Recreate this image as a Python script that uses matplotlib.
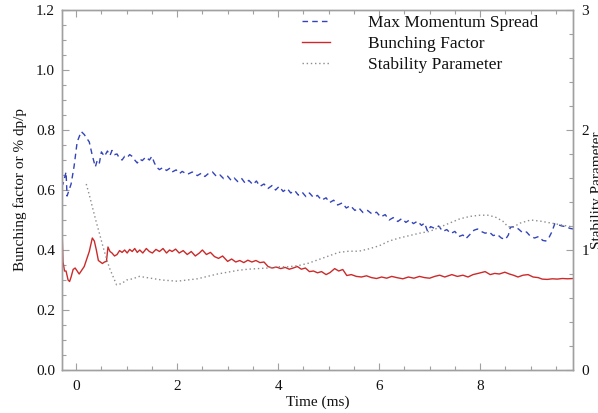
import numpy as np
import matplotlib.pyplot as plt
from matplotlib.ticker import MultipleLocator

plt.rcParams['font.family'] = ['Liberation Serif', 'DejaVu Serif']

# max momentum spread (% dp/p), left axis
spread_t = [-0.3, -0.26, -0.2, -0.18, -0.14, -0.1, -0.04, 0.02, 0.1, 0.16,
            0.2, 0.26, 0.32, 0.38, 0.42, 0.46, 0.5, 0.56, 0.62, 0.67,
            0.71, 0.76, 0.81, 0.86, 0.91, 0.96, 1.01, 1.06, 1.11, 1.16,
            1.21, 1.26, 1.31, 1.38, 1.45, 1.5, 1.55, 1.6, 1.65, 1.72,
            1.79, 1.85, 1.9, 1.98, 2.05, 2.1, 2.2, 2.3, 2.4, 2.48,
            2.55, 2.62, 2.7, 2.78, 2.85, 2.92, 3.0, 3.07, 3.13, 3.2,
            3.28, 3.35, 3.42, 3.5, 3.57, 3.64, 3.72, 3.8, 3.88, 3.95,
            4.02, 4.1, 4.18, 4.25, 4.33, 4.4, 4.48, 4.55, 4.62, 4.7,
            4.78, 4.86, 4.95, 5.02, 5.1, 5.18, 5.27, 5.35, 5.43, 5.52,
            5.6, 5.68, 5.77, 5.86, 5.95, 6.03, 6.12, 6.2, 6.28, 6.37,
            6.45, 6.53, 6.6, 6.68, 6.76, 6.84, 6.9, 6.96, 7.02, 7.1,
            7.18, 7.26, 7.34, 7.42, 7.5, 7.58, 7.66, 7.72, 7.8, 7.88,
            7.95, 8.02, 8.1, 8.18, 8.26, 8.34, 8.42, 8.5, 8.56, 8.6,
            8.68, 8.76, 8.84, 8.92, 9.0, 9.08, 9.16, 9.24, 9.3, 9.36,
            9.42, 9.48, 9.55, 9.62, 9.7, 9.78, 9.85]
spread_v = [0.61, 0.62, 0.66, 0.58, 0.60, 0.62, 0.68, 0.76, 0.795, 0.785,
            0.775, 0.76, 0.715, 0.677, 0.70, 0.69, 0.727, 0.712, 0.73, 0.715,
            0.732, 0.718, 0.72, 0.705, 0.70, 0.712, 0.708, 0.718, 0.712, 0.70,
            0.69, 0.703, 0.698, 0.71, 0.70, 0.712, 0.69, 0.675, 0.668, 0.675,
            0.665, 0.672, 0.66, 0.667, 0.655, 0.662, 0.652, 0.66, 0.648, 0.656,
            0.645, 0.655, 0.66, 0.645, 0.65, 0.638, 0.646, 0.632, 0.64, 0.628,
            0.638, 0.622, 0.632, 0.618, 0.63, 0.612, 0.62, 0.605, 0.615, 0.60,
            0.612, 0.595, 0.605, 0.59, 0.598, 0.583, 0.592, 0.578, 0.59, 0.575,
            0.582, 0.566, 0.574, 0.558, 0.566, 0.55, 0.557, 0.54, 0.548, 0.532,
            0.54, 0.525, 0.532, 0.52, 0.526, 0.51, 0.518, 0.50, 0.508, 0.495,
            0.505, 0.492, 0.50, 0.488, 0.496, 0.482, 0.49, 0.462, 0.478, 0.472,
            0.48, 0.462, 0.468, 0.455, 0.462, 0.445, 0.45, 0.438, 0.452, 0.466,
            0.47, 0.462, 0.456, 0.46, 0.448, 0.452, 0.44, 0.435, 0.45, 0.476,
            0.478, 0.47, 0.458, 0.46, 0.445, 0.44, 0.445, 0.432, 0.43, 0.44,
            0.46, 0.488, 0.484, 0.48, 0.478, 0.472, 0.47]

# bunching factor, left axis
bunch_t = [-0.3, -0.28, -0.26, -0.23, -0.2, -0.16, -0.13, -0.1, -0.06, -0.02,
           0.02, 0.06, 0.1, 0.16, 0.21, 0.26, 0.32, 0.36, 0.4, 0.44,
           0.48, 0.52, 0.56, 0.6, 0.63, 0.67, 0.71, 0.76, 0.81, 0.86,
           0.91, 0.96, 1.01, 1.06, 1.11, 1.16, 1.21, 1.26, 1.32, 1.39,
           1.45, 1.51, 1.58, 1.65, 1.72, 1.79, 1.85, 1.9, 1.97, 2.04,
           2.12, 2.2, 2.28, 2.36, 2.44, 2.5, 2.58, 2.66, 2.74, 2.82,
           2.9, 3.0, 3.08, 3.16, 3.24, 3.32, 3.4, 3.48, 3.56, 3.64,
           3.72, 3.8, 3.88, 3.97, 4.05, 4.14, 4.22, 4.3, 4.38, 4.46,
           4.54, 4.62, 4.7, 4.78, 4.86, 4.95, 5.03, 5.12, 5.2, 5.28,
           5.36, 5.45, 5.55, 5.65, 5.75, 5.85, 5.95, 6.05, 6.15, 6.25,
           6.35, 6.47, 6.58, 6.69, 6.8, 6.9, 7.0, 7.1, 7.2, 7.3,
           7.44, 7.55, 7.66, 7.76, 7.86, 7.96, 8.05, 8.1, 8.2, 8.29,
           8.38, 8.49, 8.58, 8.66, 8.75, 8.85, 8.95, 9.05, 9.15, 9.23,
           9.33, 9.43, 9.53, 9.63, 9.73, 9.85]
bunch_v = [0.50, 0.47, 0.36, 0.33, 0.33, 0.30, 0.295, 0.31, 0.335, 0.34,
           0.33, 0.32, 0.33, 0.345, 0.37, 0.395, 0.44, 0.43, 0.40, 0.365,
           0.36, 0.355, 0.36, 0.362, 0.41, 0.395, 0.39, 0.38, 0.385, 0.398,
           0.392, 0.40, 0.39, 0.402, 0.395, 0.405, 0.392, 0.40, 0.39, 0.405,
           0.395, 0.39, 0.402, 0.395, 0.405, 0.39, 0.40, 0.395, 0.403, 0.39,
           0.398, 0.385, 0.395, 0.38, 0.39, 0.40, 0.385, 0.392, 0.378, 0.372,
           0.38, 0.362, 0.37, 0.36, 0.365, 0.358, 0.366, 0.36, 0.365, 0.358,
           0.36, 0.345, 0.34, 0.343, 0.338, 0.342, 0.336, 0.34, 0.345, 0.336,
           0.34, 0.328, 0.33, 0.324, 0.328, 0.318, 0.325, 0.338, 0.33, 0.335,
           0.315, 0.318, 0.312, 0.31, 0.314, 0.308, 0.305, 0.31, 0.306, 0.312,
           0.308, 0.304, 0.31, 0.306, 0.312, 0.308, 0.306, 0.312, 0.316, 0.31,
           0.318, 0.312, 0.316, 0.31, 0.318, 0.322, 0.326, 0.328, 0.318, 0.322,
           0.32, 0.326, 0.32, 0.316, 0.31, 0.316, 0.318, 0.31, 0.308, 0.303,
           0.302, 0.304, 0.303, 0.305, 0.304, 0.305]

# stability parameter, right axis
stab_t = [0.2, 0.26, 0.32, 0.4, 0.46, 0.53, 0.6, 0.66, 0.71, 0.76,
          0.8, 0.9, 1.0, 1.12, 1.25, 1.4, 1.55, 1.7, 1.85, 2.0,
          2.2, 2.4, 2.6, 2.8, 3.0, 3.2, 3.4, 3.6, 3.8, 4.0,
          4.2, 4.4, 4.6, 4.8, 5.0, 5.2, 5.4, 5.6, 5.8, 6.0,
          6.2, 6.4, 6.6, 6.8, 7.0, 7.2, 7.4, 7.6, 7.8, 8.0,
          8.15, 8.3, 8.45, 8.55, 8.65, 8.8, 9.0, 9.2, 9.4, 9.6,
          9.85]
stab_v = [1.55, 1.46, 1.36, 1.23, 1.14, 1.03, 0.93, 0.85, 0.80, 0.75,
          0.71, 0.72, 0.75, 0.76, 0.78, 0.77, 0.76, 0.75, 0.745, 0.74,
          0.75, 0.76, 0.78, 0.80, 0.815, 0.83, 0.84, 0.845, 0.85, 0.86,
          0.86, 0.87, 0.89, 0.92, 0.95, 0.98, 0.99, 0.99, 1.01, 1.035,
          1.075, 1.10, 1.12, 1.14, 1.155, 1.19, 1.225, 1.26, 1.28, 1.29,
          1.29, 1.275, 1.24, 1.195, 1.19, 1.225, 1.25, 1.24, 1.225, 1.21,
          1.19]

axcol = '#a0a0a0'
txtcol = '#111111'

fig = plt.figure(figsize=(5.98, 4.13), dpi=100)
ax = fig.add_axes([0.1037, 0.1041, 0.8545, 0.8717])
ax2 = ax.twinx()

l1, = ax.plot(spread_t, spread_v, color='#3344bb', lw=1.0, dashes=(4, 3))
l2, = ax.plot(bunch_t, bunch_v, color='#cc2a2a', lw=1.0)
l3, = ax2.plot(stab_t, stab_v, color='#8c8c8c', lw=1.0, dashes=(1, 2))

ax.set_xlim(-0.28, 9.84)
ax.set_ylim(0, 1.2)
ax2.set_ylim(0, 3)

ax.xaxis.set_major_locator(MultipleLocator(2))
ax.xaxis.set_minor_locator(MultipleLocator(0.5))
ax.yaxis.set_major_locator(MultipleLocator(0.2))
ax.yaxis.set_minor_locator(MultipleLocator(0.05))
ax.yaxis.set_major_formatter(lambda v, p: f'{v:.1f}')
ax2.yaxis.set_major_locator(MultipleLocator(1))
ax2.yaxis.set_minor_locator(MultipleLocator(0.2))

for a in (ax, ax2):
    for s in a.spines.values():
        s.set_color(axcol)
        s.set_linewidth(1.0)
ax.tick_params(which='both', direction='in', colors=axcol, labelcolor=txtcol,
               labelsize=11, top=True, right=False)
ax.tick_params(which='major', length=5, width=0.8)
ax.tick_params(which='minor', length=3, width=0.8)
ax.tick_params(axis='y', pad=5)
ax.tick_params(axis='x', pad=7)
ax2.tick_params(which='both', direction='in', colors=axcol, labelcolor=txtcol,
                labelsize=11, pad=6)
ax2.tick_params(which='major', length=5, width=0.8)
ax2.tick_params(which='minor', length=3, width=0.8)

fig.text(0.5315, 0.027, 'Time (ms)', ha='center', va='center', fontsize=11, color=txtcol)
fig.text(0.033, 0.54, 'Bunching factor or % dp/p', rotation=90, ha='center',
         va='center', fontsize=11, color=txtcol)
fig.text(0.9985, 0.54, 'Stability Parameter', rotation=90, ha='center',
         va='center', fontsize=11, color=txtcol)

fig.legend([l1, l2, l3], ['Max Momentum Spread', 'Bunching Factor', 'Stability Parameter'],
           loc='upper left', bbox_to_anchor=(302 / 598, 1 - 15 / 413),
           frameon=False, fontsize=12.5, handlelength=1.6, handletextpad=2.2,
           labelspacing=0.27, borderpad=0, borderaxespad=0, labelcolor=txtcol)

fig.savefig('out.png', dpi=100)
